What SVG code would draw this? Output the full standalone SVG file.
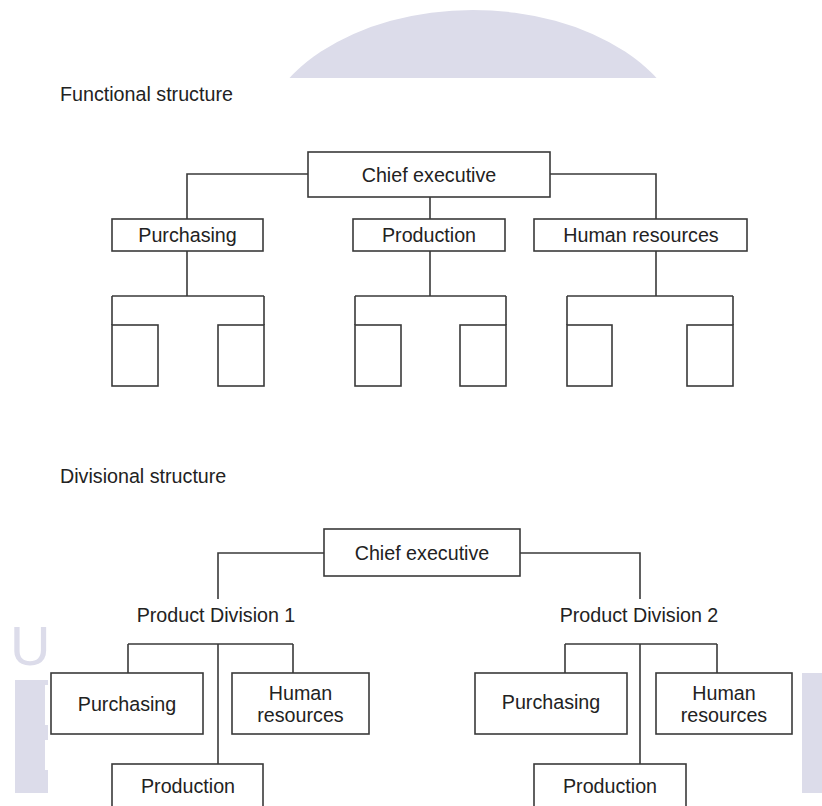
<svg xmlns="http://www.w3.org/2000/svg" width="822" height="806" viewBox="0 0 822 806">
<defs>
<style>
.wm{fill:#dcdcea;stroke:none}
.box{fill:#fff;stroke:#3a3a3a;stroke-width:1.6}
.ln{fill:none;stroke:#3a3a3a;stroke-width:1.6}
.t{font-family:"Liberation Sans",Arial,sans-serif;font-size:19.7px;fill:#222;text-anchor:middle}
.h{font-family:"Liberation Sans",Arial,sans-serif;font-size:19.7px;fill:#222}
</style>
<clipPath id="domeclip"><rect x="0" y="0" width="822" height="78"/></clipPath>
</defs>
<rect width="822" height="806" fill="#fff"/>
<g id="watermark">
<ellipse class="wm" cx="473" cy="152" rx="215" ry="142" clip-path="url(#domeclip)"/>
<text x="10" y="665" style="font-family:'Liberation Sans',Arial,sans-serif;font-size:56px;fill:#dcdcea">U</text>
<rect class="wm" x="15" y="680" width="33" height="113"/>
<rect x="45" y="685" width="3" height="40" fill="#fff"/>
<rect x="45" y="740" width="3" height="30" fill="#fff"/>
<rect class="wm" x="802" y="673" width="20" height="120"/>
</g>
<text class="h" x="60" y="101">Functional structure</text>
<text class="h" x="60" y="483">Divisional structure</text>
<g id="connectors">
<path class="ln" d="M308,174 H187 V219 M550,174 H656 V219 M430,197 V219"/>
<path class="ln" d="M187,251 V296 M112,296 H264 M112,296 V325 M264,296 V325"/>
<path class="ln" d="M430,251 V296 M355,296 H506 M355,296 V325 M506,296 V325"/>
<path class="ln" d="M656,251 V296 M567,296 H733 M567,296 V325 M733,296 V325"/>
<path class="ln" d="M324,553 H218 V599 M520,553 H640 V599"/>
<path class="ln" d="M128,644 H293 M128,644 V673 M293,644 V673 M218,644 V764"/>
<path class="ln" d="M565,644 H717 M565,644 V673 M717,644 V673 M640,644 V764"/>
</g>
<g id="f-chief"><rect class="box" x="308" y="152" width="242" height="45"/><text class="t" x="429" y="181.5">Chief executive</text></g>
<g id="f-purchasing"><rect class="box" x="112" y="219" width="151" height="32"/><text class="t" x="187.5" y="242">Purchasing</text></g>
<g id="f-production"><rect class="box" x="353" y="219" width="152" height="32"/><text class="t" x="429" y="242">Production</text></g>
<g id="f-hr"><rect class="box" x="534" y="219" width="213" height="32"/><text class="t" x="641" y="242">Human resources</text></g>
<g id="f-sub1a"><rect class="box" x="112" y="325" width="46" height="61"/></g>
<g id="f-sub1b"><rect class="box" x="218" y="325" width="46" height="61"/></g>
<g id="f-sub2a"><rect class="box" x="355" y="325" width="46" height="61"/></g>
<g id="f-sub2b"><rect class="box" x="460" y="325" width="46" height="61"/></g>
<g id="f-sub3a"><rect class="box" x="567" y="325" width="45" height="61"/></g>
<g id="f-sub3b"><rect class="box" x="687" y="325" width="46" height="61"/></g>
<g id="d-chief"><rect class="box" x="324" y="529" width="196" height="47"/><text class="t" x="422" y="559.5">Chief executive</text></g>
<g id="d-div1"><text class="t" x="216" y="621.5">Product Division 1</text></g>
<g id="d-div2"><text class="t" x="639" y="621.5">Product Division 2</text></g>
<g id="d1-purchasing"><rect class="box" x="51" y="673" width="152" height="61"/><text class="t" x="127" y="710.5">Purchasing</text></g>
<g id="d1-hr"><rect class="box" x="232" y="673" width="137" height="61"/><text class="t" x="300.5" y="700">Human</text><text class="t" x="300.5" y="722">resources</text></g>
<g id="d1-production"><rect class="box" x="112" y="764" width="151" height="60"/><text class="t" x="188" y="792.5">Production</text></g>
<g id="d2-purchasing"><rect class="box" x="475" y="673" width="152" height="61"/><text class="t" x="551" y="708.5">Purchasing</text></g>
<g id="d2-hr"><rect class="box" x="656" y="673" width="136" height="61"/><text class="t" x="724" y="700">Human</text><text class="t" x="724" y="722">resources</text></g>
<g id="d2-production"><rect class="box" x="534" y="764" width="152" height="60"/><text class="t" x="610" y="792.5">Production</text></g>
</svg>
